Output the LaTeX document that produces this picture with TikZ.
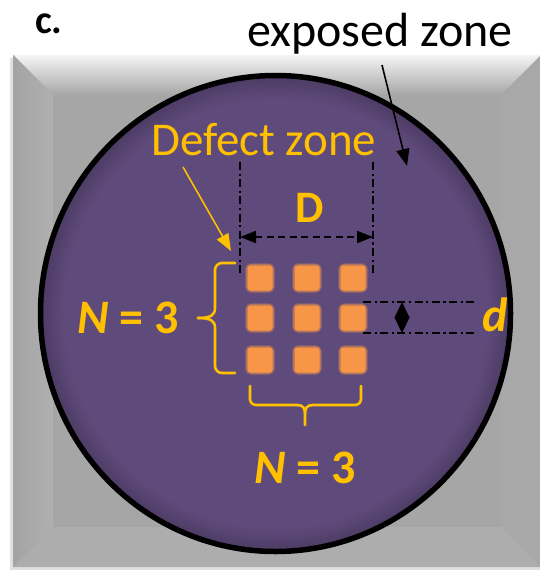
\documentclass[tikz,border=0pt]{standalone}
\usepackage{fontspec}
\setmainfont{Carlito}
\usetikzlibrary{arrows.meta}
\definecolor{purp}{HTML}{5F4B7B}
\definecolor{purpd}{HTML}{4C3B64}
\definecolor{gold}{HTML}{FFC000}
\definecolor{orng}{HTML}{F79646}
\definecolor{gry}{HTML}{A6A6A6}
\pgfdeclareradialshading{discshade}{\pgfpoint{0bp}{0bp}}{color(0bp)=(purp); color(22.5bp)=(purp); color(25bp)=(purpd); color(50bp)=(purpd)}
\tikzset{
  txt/.style={inner sep=0pt, anchor=base west},
  goldtxt/.style={txt, text=gold},
  dashdot/.style={line width=2.2pt, dash pattern=on 8pt off 3.5pt on 2.2pt off 3.5pt},
  sqglow/.style={draw=none, fill=orng, minimum size=30pt, rounded corners=7pt, fill opacity=0.2, inner sep=0pt},
  sqmid/.style={draw=none, fill=orng, minimum size=28pt, rounded corners=5pt, fill opacity=0.45, inner sep=0pt},
  sqcore/.style={draw=none, fill=orng, minimum size=25pt, rounded corners=3pt, inner sep=0pt},
  bracepen/.style={draw=gold, line width=2.6pt, line cap=round, line join=round},
  bigtip/.tip={Triangle[length=17pt,width=13pt]},
  dimtip/.tip={Triangle[length=16pt,width=12pt]},
}
\begin{document}
\begin{tikzpicture}[x=1pt,y=-1pt]
\useasboundingbox (0,0) rectangle (539,575);
\fill[white] (0,0) rectangle (539,575);
% soft shadow
\fill[black!12] (10,58) rectangle (541,570);
% bevelled square
\fill[gry] (13,55) rectangle (541,567);
\shade[top color=black!4, bottom color=gry] (13,55) -- (541,55) -- (501,95) -- (53,95) -- cycle;
\shade[left color=black!36, right color=black!31] (13,55) -- (53,95) -- (53,527) -- (13,567) -- cycle;
\fill[black!34] (541,55) -- (541,567) -- (501,527) -- (501,95) -- cycle;
\fill[black!32] (13,567) -- (53,527) -- (501,527) -- (541,567) -- cycle;
\fill[gry] (53,95) rectangle (501,527);
% disc
\shade[shading=discshade] (275.5,313.5) ellipse [x radius=235, y radius=238];
\draw[line width=5.5pt] (275.5,313.5) ellipse [x radius=235, y radius=238];
% labels
\node[txt, font=\bfseries\fontsize{40}{40}\selectfont] (clab) at (35,34) {c.};
\node[inner sep=0pt, anchor=base east, font=\fontsize{48}{48}\selectfont] (ez) at (513,47) {exposed zone};
\node[goldtxt, font=\fontsize{47}{47}\selectfont] (dz) at (151,155) {Defect zone};
\node[inner sep=0pt, anchor=base, text=gold, font=\bfseries\fontsize{45}{45}\selectfont] (Dl) at (310,222) {D};
\node[goldtxt, font=\bfseries\fontsize{48}{48}\selectfont] (nl) at (77,333) {\textit{N} = 3};
\node[goldtxt, font=\bfseries\fontsize{48}{48}\selectfont] (nb) at (254,483) {\textit{N} = 3};
\node[goldtxt, font=\bfseries\itshape\fontsize{48}{48}\selectfont] (dl) at (482,331) {d};
% defect squares
\foreach \i/\x in {1/260,2/307,3/353}{
  \foreach \j/\y in {1/278,2/318,3/360}{
    \node[sqglow] (g\i\j) at (\x,\y) {};
    \node[sqmid] (m\i\j) at (\x,\y) {};
    \node[sqcore] (s\i\j) at (\x,\y) {};
  }
}
% arrows to zones
\coordinate (ea) at (382,65);
\coordinate (eb) at (407,166);
\draw[line width=1.6pt, -{bigtip}] (ea) -- (eb);
\coordinate (da) at (183,167);
\coordinate (db) at (231,251);
\draw[gold, line width=1.6pt, -{bigtip}] (da) -- (db);
% D dimension
\coordinate (Dlt) at (240,162);
\coordinate (Dlb) at (240,273);
\coordinate (Drt) at (373,162);
\coordinate (Drb) at (373,273);
\draw[dashdot] (Dlt) -- (Dlb);
\draw[dashdot] (Drt) -- (Drb);
\coordinate (Da) at (240,237);
\coordinate (Db) at (373,237);
\draw[line width=2.2pt, dash pattern=on 7pt off 4.5pt, {dimtip}-{dimtip}] (Da) -- (Db);
% d dimension
\coordinate (dta) at (363,302);
\coordinate (dtb) at (477,302);
\coordinate (dba) at (363,333);
\coordinate (dbb) at (477,333);
\draw[dashdot] (dta) -- (dtb);
\draw[dashdot] (dba) -- (dbb);
\fill (402,302) -- (409.5,317.5) -- (402,333) -- (394.5,317.5) -- cycle;
% left brace
\draw[bracepen] (235,263) -- (222,263) arc[start angle=-90, end angle=-180, radius=7] -- (215,308)
  .. controls (215,315) and (211,318) .. (198,318);
\draw[bracepen] (198,318) .. controls (211,318) and (215,321) .. (215,328) -- (215,366)
  arc[start angle=180, end angle=90, radius=7] -- (235,373);
% bottom brace
\draw[bracepen] (250,386) -- (250,399) arc[start angle=180, end angle=90, radius=6] -- (297,405)
  .. controls (303,405) and (305,408) .. (305,414) -- (305,425);
\draw[bracepen] (305,414) .. controls (305,408) and (307,405) .. (313,405) -- (355,405)
  arc[start angle=90, end angle=0, radius=6] -- (361,386);
\end{tikzpicture}
\end{document}
